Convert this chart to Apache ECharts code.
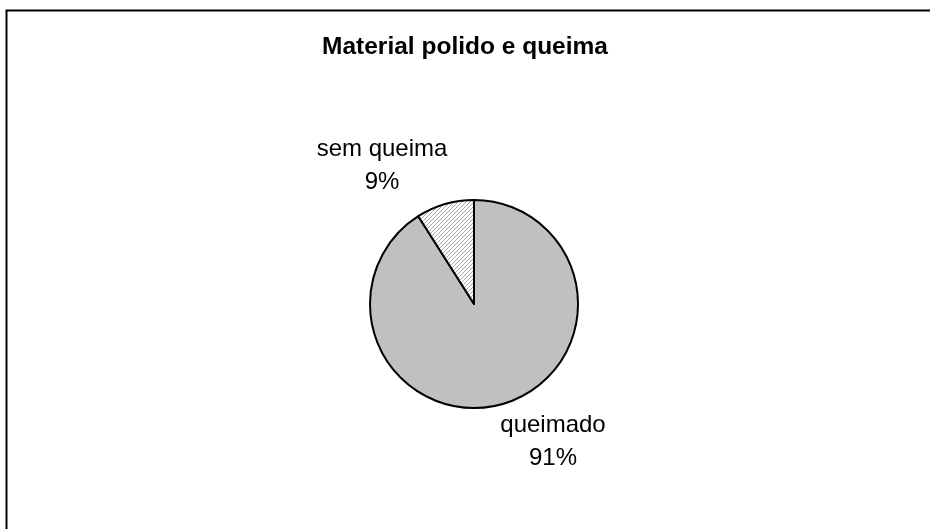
<!DOCTYPE html>
<html>
<head>
<meta charset="utf-8">
<script src="https://cdn.jsdelivr.net/npm/echarts@6/dist/echarts.min.js"></script>
<style>
html,body{margin:0;padding:0;background:#fff;}
#chart{width:930px;height:529px;}
</style>
</head>
<body>
<div id="chart"></div>
<script>
var titleText = 'Material polido e queima';
var categories = ['queimado', 'sem queima'];
var values = [91, 9];

function makeHatch() {
  var c = document.createElement('canvas');
  c.width = 4; c.height = 4;
  var ctx = c.getContext('2d');
  ctx.fillStyle = '#ffffff';
  ctx.fillRect(0, 0, 4, 4);
  ctx.strokeStyle = '#a8a8a8';
  ctx.lineWidth = 1;
  ctx.beginPath();
  ctx.moveTo(0, 4); ctx.lineTo(4, 0);
  ctx.moveTo(-1, 1); ctx.lineTo(1, -1);
  ctx.moveTo(3, 5); ctx.lineTo(5, 3);
  ctx.stroke();
  return c;
}

var sliceColors = ['#c0c0c0', { image: makeHatch(), repeat: 'repeat' }];
var labelPos = [[553, 442], [382, 166]];

var chart = echarts.init(document.getElementById('chart'));
chart.setOption({
  animation: false,
  backgroundColor: '#ffffff',
  title: {
    text: titleText,
    left: 'center',
    top: 30,
    textStyle: { fontFamily: 'Liberation Sans', fontWeight: 'bold', fontSize: 24.5, color: '#000' }
  },
  graphic: [{
    type: 'rect',
    shape: { x: 6.5, y: 10.5, width: 1000, height: 1000 },
    style: { fill: 'none', stroke: '#000', lineWidth: 2 },
    silent: true
  }],
  series: [{
    type: 'pie',
    center: [474, 304],
    radius: 104,
    startAngle: 90,
    clockwise: true,
    data: categories.map(function (n, i) {
      return { name: n, value: values[i], itemStyle: { color: sliceColors[i] } };
    }),
    itemStyle: { borderColor: '#000', borderWidth: 2 },
    label: {
      show: true,
      position: 'outside',
      formatter: function (p) { return p.name + '\n' + Math.round(p.percent) + '%'; },
      fontFamily: 'Liberation Sans',
      fontSize: 24,
      lineHeight: 33,
      color: '#000',
      align: 'center'
    },
    labelLine: { show: false },
    labelLayout: function (params) {
      var p = labelPos[params.dataIndex];
      return { x: p[0], y: p[1], align: 'center', verticalAlign: 'middle' };
    },
    emphasis: { disabled: true }
  }]
});
</script>
</body>
</html>
